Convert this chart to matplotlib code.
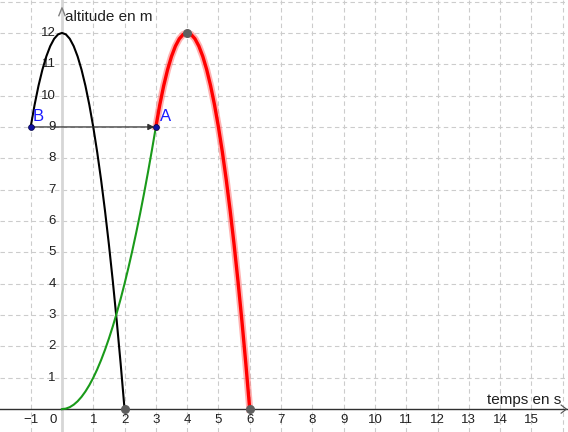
import matplotlib
matplotlib.use('Agg')
from matplotlib import pyplot as plt

plt.rcParams['font.family'] = ['Liberation Sans', 'DejaVu Sans']

## Curve samples
black_x = [-1, -0.875, -0.75, -0.625, -0.5, -0.375, -0.25, -0.125, 0,
           0.125, 0.25, 0.375, 0.5, 0.625, 0.75, 0.875, 1,
           1.125, 1.25, 1.375, 1.5, 1.625, 1.75, 1.875, 2]
black_y = [9, 9.703, 10.313, 10.828, 11.25, 11.578, 11.813, 11.953, 12,
           11.953, 11.813, 11.578, 11.25, 10.828, 10.313, 9.703, 9,
           8.203, 7.313, 6.328, 5.25, 4.078, 2.813, 1.453, 0]

green_x = [0, 0.125, 0.25, 0.375, 0.5, 0.625, 0.75, 0.875, 1,
           1.125, 1.25, 1.375, 1.5, 1.625, 1.75, 1.875, 2,
           2.125, 2.25, 2.375, 2.5, 2.625, 2.75, 2.875, 3]
green_y = [0, 0.016, 0.063, 0.141, 0.25, 0.391, 0.563, 0.766, 1,
           1.266, 1.563, 1.891, 2.25, 2.641, 3.063, 3.516, 4,
           4.516, 5.063, 5.641, 6.25, 6.891, 7.563, 8.266, 9]

red_x = [3, 3.125, 3.25, 3.375, 3.5, 3.625, 3.75, 3.875, 4,
         4.125, 4.25, 4.375, 4.5, 4.625, 4.75, 4.875, 5,
         5.125, 5.25, 5.375, 5.5, 5.625, 5.75, 5.875, 6]
red_y = [9, 9.703, 10.313, 10.828, 11.25, 11.578, 11.813, 11.953, 12,
         11.953, 11.813, 11.578, 11.25, 10.828, 10.313, 9.703, 9,
         8.203, 7.313, 6.328, 5.25, 4.078, 2.813, 1.453, 0]

## Special points
grey_pts_x = [2, 6, 4]
grey_pts_y = [0, 0, 12]
pointA = (3, 9)
pointB = (-1, 9)

x_ticks = list(range(-1, 16))
y_ticks = list(range(1, 13))

## Figure, whole canvas is the plot area
fig = plt.figure(figsize=(5.68, 4.32), dpi=100)
ax = fig.add_axes([0, 0, 1, 1])
ax.set_xlim(-1.98, 16.17)
ax.set_ylim(-0.73, 13.05)
ax.axis('off')

# dashed grid
for gx in range(-1, 17):
    ax.axvline(gx, color='#cccccc', lw=0.8, ls=(0, (4, 3)), zorder=0)
for gy in range(1, 14):
    ax.axhline(gy, color='#cccccc', lw=0.8, ls=(0, (4, 3)), zorder=0)

# axes lines
ax.axvline(0, color='#d6d6d6', lw=2, zorder=1)
ax.axhline(0, color='#303030', lw=1, zorder=1)
ax.plot([-0.1, 0, 0.1], [12.55, 12.8, 12.55], color='#808080', lw=1, zorder=2)
ax.plot([15.95, 16.12, 15.95], [0.13, 0, -0.13], color='#505050', lw=0.8, zorder=2)

# tick labels
for t in x_ticks:
    if t == 0:
        ax.text(-0.29, -0.35, '0', ha='center', va='center', fontsize=9.5, color='#202020')
    else:
        ax.text(t, -0.35, str(t).replace('-', '\u2212'), ha='center', va='center',
                fontsize=9.5, color='#202020')
for t in y_ticks:
    ax.text(-0.2, t, str(t), ha='right', va='center', fontsize=9.5, color='#202020')

ax.text(0.1, 12.5, 'altitude en m', ha='left', va='center', fontsize=11, color='#202020')
ax.text(15.97, 0.3, 'temps en s', ha='right', va='center', fontsize=11, color='#202020')

# curves
ax.plot(black_x, black_y, color='black', lw=1.5, zorder=3)
ax.plot(green_x, green_y, color='#1a9a1a', lw=1.5, zorder=3)
ax.plot(red_x, red_y, color='#ff8080', lw=5, alpha=0.6, zorder=3)
ax.plot(red_x, red_y, color='#ff0000', lw=2.4, zorder=4)

# vector B -> A
ax.annotate('', xy=(pointA[0] - 0.05, pointA[1]), xytext=pointB,
            arrowprops=dict(arrowstyle='-|>', color='#303030', lw=0.9,
                            mutation_scale=9, shrinkA=0, shrinkB=0), zorder=5)

ax.scatter(grey_pts_x, grey_pts_y, s=30, color='#5f5f5f', zorder=6)
ax.scatter([pointA[0], pointB[0]], [pointA[1], pointB[1]], s=18,
           color='#1010a0', edgecolors='#000040', linewidths=0.5, zorder=6)
ax.text(pointA[0] + 0.12, pointA[1] + 0.08, 'A', color='#1a1aff', fontsize=12,
        ha='left', va='bottom', zorder=7)
ax.text(pointB[0] + 0.05, pointB[1] + 0.08, 'B', color='#1a1aff', fontsize=12,
        ha='left', va='bottom', zorder=7)

fig.savefig('out.png', dpi=100)
